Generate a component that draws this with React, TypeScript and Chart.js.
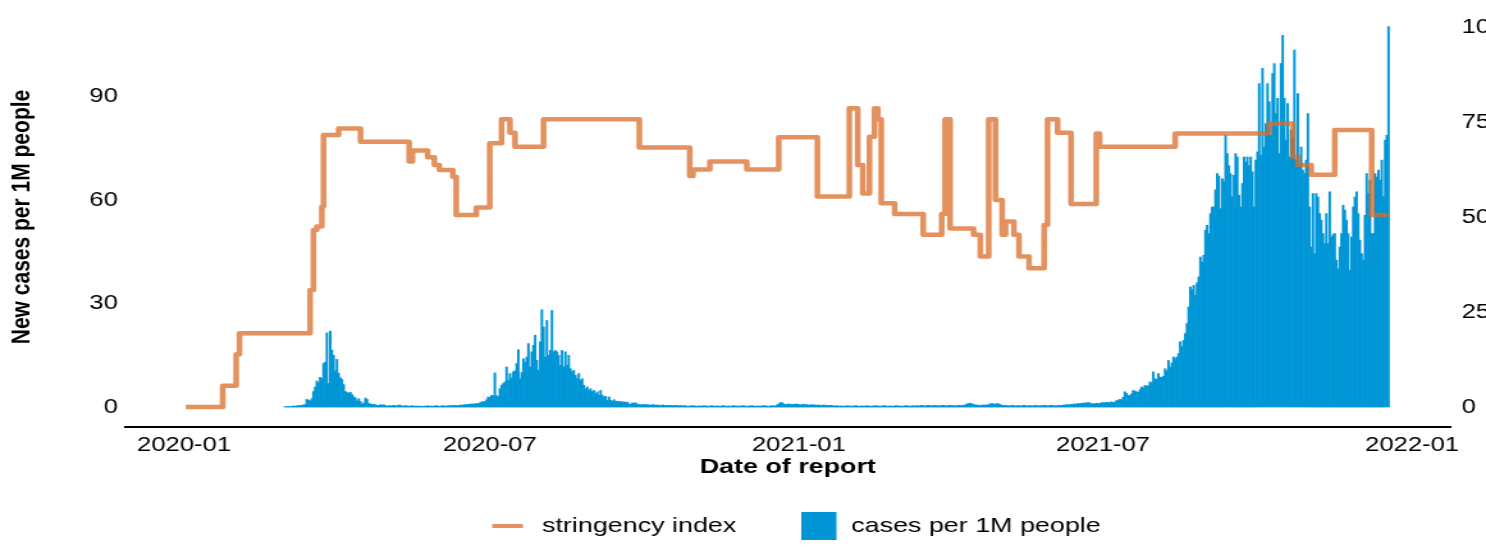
import React, { useEffect, useRef } from 'react';
import { Chart, registerables } from 'chart.js';

Chart.register(...registerables);

// ---------- data ----------
const ORIGIN = Date.UTC(2020, 0, 1);
const dayOf = (s: string): number => {
  const [y, m, d] = s.split('-').map(Number);
  return (Date.UTC(y, m - 1, d) - ORIGIN) / 86400000;
};

const xTickDates = ['2020-01-01', '2020-07-01', '2021-01-01', '2021-07-01', '2022-01-01'];
const xTickLabels = ['2020-01', '2020-07', '2021-01', '2021-07', '2022-01'];
const leftTicks = [0, 30, 60, 90];
const rightTicks = [0, 25, 50, 75, 100];

const seriesLabels = ['stringency index', 'cases per 1M people'];

// daily new cases per 1M people, starting 2020-03-01
const casesStartDate = '2020-03-01';
const casesWave1 = [
  0.1, 0.1, 0.2, 0.1, 0.2, 0.3, 0.2, 0.4, 0.3, 0.5,
  0.4, 0.6, 0.7, 2.2, 2.0, 1.8, 2.4, 4.5, 5.8, 7.5,
  7.0, 8.6, 8.2, 12.6, 13.0, 21.5, 6.8, 22.0, 16.5, 15.0,
  10.5, 13.8, 9.8, 8.5, 8.0, 6.5, 4.5, 4.2, 4.0, 4.3,
  3.6, 3.0, 2.6, 1.8, 2.4, 1.6, 0.9, 1.2, 2.6, 2.2,
  1.0, 0.9, 0.7, 0.8, 0.6, 0.5, 0.4, 0.7, 0.5, 0.6,
  0.4, 0.3, 0.4,
];
const casesMid2020 = [
  0.3, 0.4, 0.5, 0.3, 0.4, 0.6, 0.4, 0.3, 0.3, 0.4,
  0.3, 0.2, 0.3, 0.4, 0.2, 0.3, 0.2, 0.3, 0.2, 0.2,
  0.3, 0.2, 0.4, 0.2, 0.3, 0.2, 0.3, 0.4, 0.3, 0.2,
  0.3, 0.4, 0.3, 0.2, 0.4, 0.3, 0.5, 0.4,
];
const casesWave2 = [
  0.4, 0.5, 0.3, 0.5, 0.6, 0.5, 0.7, 0.6, 0.8, 0.7,
  0.9, 0.8, 0.9, 1.0, 0.9, 1.2, 1.4, 1.6, 1.5, 2.1,
  2.9, 2.8, 3.4, 3.2, 9.9, 3.3, 3.0, 5.3, 6.3, 6.8,
  7.3, 11.6, 7.7, 9.7, 8.4, 10.2, 10.5, 12.6, 16.6, 8.2,
  10.0, 14.0, 13.0, 14.5, 18.4, 11.6, 16.0, 17.9, 20.8, 13.5,
  10.6, 18.9, 28.2, 23.2, 14.5, 25.1, 15.0, 16.4, 28.0, 16.0,
  16.4, 16.0, 15.0, 12.1, 16.4, 11.6, 16.0, 12.1, 15.0, 11.1,
  10.2, 10.6, 9.2, 8.2, 9.7, 7.7, 8.2, 6.3, 5.3, 5.8,
  4.8, 5.3, 4.4, 4.8, 3.9, 4.4, 3.4, 4.8, 3.4, 2.9,
  3.1, 1.9, 2.9, 1.9, 1.7, 2.1, 1.6, 1.7, 1.5, 1.6,
  1.4, 1.5, 1.3, 1.4, 0.8, 0.9, 1.2, 1.1, 1.2, 0.7,
  0.8, 0.6, 0.7, 0.7,
];
const casesLull = [
  0.7, 0.6, 0.6, 0.5, 0.7, 0.6, 0.5, 0.6, 0.5, 0.4,
  0.6, 0.5, 0.4, 0.5, 0.4, 0.5, 0.4, 0.4, 0.5, 0.3,
  0.4, 0.4,
  0.3, 0.4, 0.3, 0.2, 0.3, 0.3, 0.4, 0.3, 0.2, 0.3,
  0.3, 0.2, 0.4, 0.3, 0.3, 0.2, 0.3, 0.4, 0.3, 0.2,
  0.3, 0.3, 0.2, 0.3, 0.4, 0.3, 0.2, 0.3, 0.2, 0.3,
  0.4, 0.3, 0.3, 0.2, 0.3, 0.3, 0.4, 0.3, 0.2, 0.3,
  0.3, 0.4, 0.3, 0.2, 0.3, 0.3, 0.2, 0.3, 0.4, 0.3,
  0.3, 0.2, 0.3, 0.4, 0.3, 0.3,
  0.6, 0.9, 1.3, 1.2, 0.9, 0.7,
  0.8, 0.9, 0.7, 0.8, 0.6, 0.9, 0.8, 0.7, 0.6, 0.7,
  0.8, 0.6, 0.7, 0.5, 0.6, 0.7, 0.5, 0.6, 0.5, 0.6,
  0.4, 0.5, 0.6, 0.4, 0.5, 0.4, 0.5, 0.4,
  0.3, 0.3, 0.4, 0.2, 0.3, 0.3, 0.2, 0.3, 0.4, 0.3,
  0.2, 0.3, 0.3, 0.4, 0.3, 0.2, 0.3, 0.3, 0.2, 0.4,
  0.3, 0.3, 0.2, 0.3, 0.3, 0.4, 0.3, 0.2, 0.3, 0.3,
  0.4, 0.3, 0.2, 0.3, 0.3, 0.2, 0.3, 0.4, 0.3, 0.3,
  0.2, 0.3, 0.3, 0.4, 0.3, 0.2, 0.3, 0.4, 0.3, 0.3,
  0.4, 0.3, 0.5, 0.4, 0.3, 0.4, 0.5, 0.4, 0.3, 0.4,
  0.5, 0.4, 0.3, 0.4, 0.4, 0.5, 0.4, 0.3, 0.4, 0.5,
  0.4, 0.4, 0.3, 0.4, 0.5, 0.4, 0.4, 0.5, 0.6,
  0.9, 1.0, 1.1, 0.9, 0.8,
  0.5, 0.6, 0.5, 0.4, 0.5, 0.6, 0.5, 0.6, 0.7,
  0.9, 1.0, 0.9, 0.8, 1.0, 0.9, 0.7,
  0.5, 0.4, 0.5, 0.4, 0.3, 0.4, 0.5, 0.4, 0.3, 0.4,
  0.4, 0.3, 0.4, 0.5, 0.4, 0.3, 0.4, 0.4, 0.3, 0.4,
  0.5, 0.4, 0.3, 0.4, 0.4, 0.5, 0.4, 0.3, 0.4, 0.5,
  0.4, 0.4, 0.3, 0.4, 0.5, 0.4, 0.5, 0.6,
  0.6, 0.7, 0.6, 0.8, 0.7, 0.9, 0.8, 1.0, 0.9, 1.1,
  1.0, 1.2, 1.1, 1.3, 1.2,
];
const casesDelta = [
  0.9, 1.0, 0.8, 1.1, 1.0, 1.0, 1.2, 1.3, 1.1, 1.4,
  1.3, 1.2, 1.5, 1.3, 1.4, 1.8, 2.0, 2.2, 2.1, 2.8,
  4.4, 4.0, 3.4, 3.3, 3.8, 4.8, 4.6, 4.4, 4.2, 5.0,
  5.8, 5.5, 6.3, 6.0, 6.2, 7.3, 7.0, 10.2, 8.2, 8.0,
  9.7, 8.7, 8.5, 8.9, 11.1, 10.5, 13.5, 11.6, 12.8, 14.5,
  14.0, 14.5, 15.5, 18.9, 17.5, 19.3, 21.3, 24.2, 29.0, 34.8,
  34.0, 35.3, 32.4, 36.0, 37.7, 43.5, 42.0, 44.0, 51.3, 52.7,
  50.3, 56.1, 58.0, 58.0, 63.0, 67.7, 67.0, 57.5, 66.2, 65.5,
  78.8, 73.5, 70.0, 67.7, 61.0, 67.2, 73.5, 72.5, 61.4, 58.0,
  64.8, 72.5, 71.0, 72.5, 70.0, 72.5, 68.2, 58.0, 71.6, 74.0,
  93.8, 73.0, 98.2, 75.4, 82.2, 93.8, 88.5, 78.8, 96.7, 99.6,
  85.1, 89.5, 73.5, 99.6, 107.8, 89.5, 77.4, 88.0, 72.5, 80.3,
  78.0, 103.5, 71.6, 90.9, 70.6, 75.4, 68.7, 67.7, 71.6, 85.1,
  58.0, 46.4, 61.9, 44.5, 61.9, 60.9, 56.1, 54.2, 50.3, 47.4,
  56.1, 47.4, 62.4, 49.3, 50.0, 50.3, 42.6, 40.1, 46.4, 50.3,
  58.5, 57.1, 54.2, 50.3, 39.7, 49.3, 58.0, 60.9, 62.4, 56.1,
  48.4, 44.5, 42.6, 55.6, 67.7, 61.9, 65.8, 50.3, 50.3, 67.7,
  66.7, 68.7, 65.8, 71.6, 61.0, 77.4, 78.8, 110.3,
];

// stringency index: date where the value changes, and the new value
const stringencyDates = [
  '2020-01-02', '2020-01-24', '2020-02-01', '2020-02-03', '2020-03-16', '2020-03-18',
  '2020-03-20', '2020-03-23', '2020-03-24', '2020-04-02', '2020-04-15', '2020-05-14',
  '2020-05-16', '2020-05-25', '2020-05-29', '2020-06-01', '2020-06-09', '2020-06-11',
  '2020-06-23', '2020-07-01', '2020-07-08', '2020-07-13', '2020-07-16', '2020-08-02',
  '2020-09-28', '2020-10-28', '2020-10-30', '2020-11-09', '2020-12-01', '2020-12-20',
  '2021-01-12', '2021-01-31', '2021-02-05', '2021-02-08', '2021-02-12', '2021-02-15',
  '2021-02-17', '2021-02-19', '2021-02-27', '2021-03-16', '2021-03-27', '2021-03-29',
  '2021-04-01', '2021-04-15', '2021-04-19', '2021-04-24', '2021-04-28', '2021-05-02',
  '2021-05-04', '2021-05-09', '2021-05-12', '2021-05-18', '2021-05-27', '2021-05-29',
  '2021-06-04', '2021-06-12', '2021-06-27', '2021-06-29', '2021-08-13', '2021-10-08',
  '2021-10-22', '2021-10-25', '2021-11-02', '2021-11-16', '2021-12-08', '2021-12-18',
];
const stringencyValues = [
  0, 5.6, 13.9, 19.4, 30.8, 46.6,
  47.5, 52.7, 71.6, 73.3, 69.8, 64.6,
  67.5, 65.7, 63.7, 62.4, 60.6, 50.5,
  52.5, 69.4, 75.7, 72.2, 68.5, 75.7,
  68.3, 60.8, 62.5, 64.6, 62.5, 71.0,
  55.4, 78.6, 63.7, 56.2, 71.1, 78.6,
  75.7, 53.6, 50.8, 45.3, 50.8, 75.7,
  47.0, 45.3, 39.6, 75.7, 54.5, 45.3,
  48.8, 45.3, 39.6, 36.5, 47.9, 75.7,
  72.2, 53.4, 72.0, 68.5, 72.0, 74.6,
  65.9, 63.7, 61.1, 72.9, 50.5, 50.5,
];

// ---------- look ----------
const CANVAS_W = 1161;
const CANVAS_H = 548;
const DISPLAY_W = 1486;
const X_MIN = -34.9;
const X_MAX = 753.7;
const LINE_COLOR = 'rgba(218,108,40,0.75)';
const BAR_COLOR = 'rgb(0,150,214)';
const FONT = '"Liberation Sans", Arial, Helvetica, sans-serif';

const legendPlugin = {
  id: 'bottomLegend',
  afterDraw(chart: any) {
    const ctx = chart.ctx;
    const ds = chart.data.datasets;
    ctx.save();
    ctx.strokeStyle = ds[0].borderColor;
    ctx.lineWidth = 4;
    ctx.lineCap = 'butt';
    ctx.beginPath();
    ctx.moveTo(384.5, 526);
    ctx.lineTo(408.5, 526);
    ctx.stroke();
    ctx.font = `21px ${FONT}`;
    ctx.fillStyle = '#000';
    ctx.textBaseline = 'middle';
    ctx.textAlign = 'left';
    ctx.fillText(ds[0].label, 423.5, 526);
    ctx.fillStyle = ds[1].backgroundColor;
    ctx.fillRect(626, 512, 27.5, 28);
    ctx.fillStyle = '#000';
    ctx.fillText(ds[1].label, 665, 526);
    ctx.restore();
  },
};

export default function App() {
  const ref = useRef<HTMLCanvasElement | null>(null);

  useEffect(() => {
    const canvas = ref.current;
    if (!canvas) return;
    const casesDaily = [...casesWave1, ...casesMid2020, ...casesWave2, ...casesLull, ...casesDelta];
    const start = dayOf(casesStartDate);
    const xTickDays = xTickDates.map(dayOf);

    const chart = new Chart(canvas, {
      type: 'bar',
      data: {
        datasets: [
          {
            type: 'line',
            label: seriesLabels[0],
            data: stringencyDates.map((d, i) => ({ x: dayOf(d), y: stringencyValues[i] })),
            yAxisID: 'y1',
            borderColor: LINE_COLOR,
            backgroundColor: LINE_COLOR,
            borderWidth: 4.5,
            borderJoinStyle: 'round',
            stepped: 'before',
            pointRadius: 0,
            fill: false,
            order: 0,
          } as any,
          {
            type: 'bar',
            label: seriesLabels[1],
            data: casesDaily.map((v, i) => ({ x: start + i, y: v })),
            yAxisID: 'y',
            backgroundColor: BAR_COLOR,
            borderWidth: 0,
            barPercentage: 1,
            categoryPercentage: 1,
            order: 1,
          } as any,
        ],
      },
      options: {
        animation: false,
        responsive: false,
        devicePixelRatio: 1,
        layout: { autoPadding: false, padding: { top: 7, bottom: 50, left: 0, right: 0 } } as any,
        plugins: { legend: { display: false }, tooltip: { enabled: false } },
        scales: {
          x: {
            type: 'linear',
            min: X_MIN,
            max: X_MAX,
            offset: false,
            grid: { display: false, drawTicks: false },
            border: { display: true, color: '#000', width: 2 },
            afterBuildTicks: (s: any) => {
              s.ticks = xTickDays.map((v) => ({ value: v }));
            },
            afterFit: (s: any) => {
              s.height = 71;
              s.paddingLeft = 0;
              s.paddingRight = 0;
            },
            ticks: {
              autoSkip: false,
              maxRotation: 0,
              padding: 6,
              color: '#000',
              font: { family: FONT, size: 20 },
              callback: (v: any) => xTickLabels[xTickDays.indexOf(Number(v))],
            },
            title: {
              display: true,
              text: 'Date of report',
              color: '#000',
              font: { family: FONT, size: 21, weight: 'bold' },
              padding: { top: 0, bottom: 18 },
            },
          },
          y: {
            type: 'linear',
            position: 'left',
            min: -5.8,
            max: 116.0,
            grid: { display: false, drawTicks: false },
            border: { display: false },
            afterBuildTicks: (s: any) => {
              s.ticks = leftTicks.map((v) => ({ value: v }));
            },
            afterFit: (s: any) => {
              s.width = 98;
              s.paddingTop = 0;
              s.paddingBottom = 0;
            },
            ticks: { padding: 6, color: '#000', font: { family: FONT, size: 20 } },
            title: {
              display: true,
              text: 'New cases per 1M people',
              color: '#000',
              font: { family: FONT, size: 21, weight: 'bold' },
              padding: { top: 5, bottom: 0 },
            },
          },
          y1: {
            type: 'linear',
            position: 'right',
            min: -5.26,
            max: 105.26,
            grid: { display: false, drawTicks: false },
            border: { display: false },
            afterBuildTicks: (s: any) => {
              s.ticks = rightTicks.map((v) => ({ value: v }));
            },
            afterFit: (s: any) => {
              s.width = 28;
              s.paddingTop = 0;
              s.paddingBottom = 0;
            },
            ticks: { padding: 9, color: '#000', font: { family: FONT, size: 20 } },
          },
        },
      } as any,
      plugins: [legendPlugin],
    });
    return () => chart.destroy();
  }, []);

  return (
    <div
      style={{
        position: 'fixed',
        left: 0,
        top: 0,
        width: DISPLAY_W,
        height: CANVAS_H,
        overflow: 'hidden',
        background: '#fff',
      }}
    >
      <canvas
        ref={ref}
        width={CANVAS_W}
        height={CANVAS_H}
        style={{ width: `${DISPLAY_W}px`, height: `${CANVAS_H}px`, display: 'block' }}
      />
    </div>
  );
}
